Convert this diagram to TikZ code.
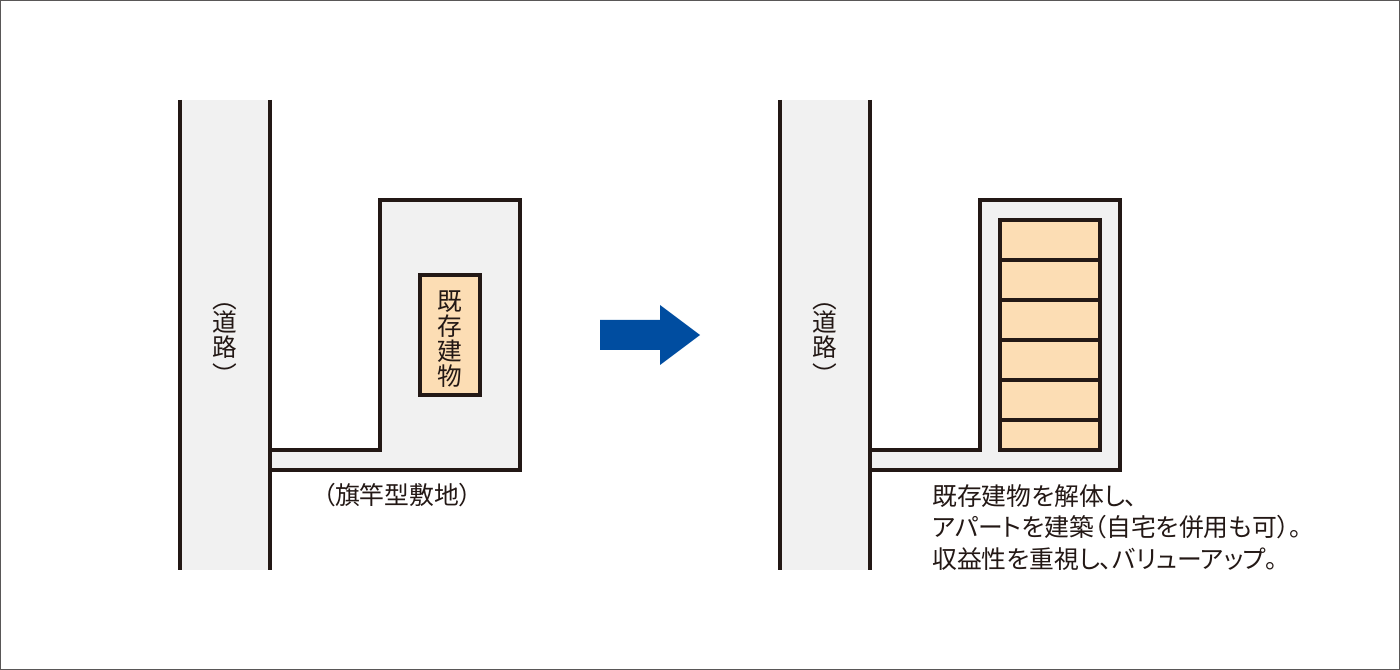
\documentclass[tikz,border=0pt]{standalone}
\usepackage{fontspec}
\usepackage{graphicx}
\setmainfont{Noto Sans CJK JP}
\newfontfamily\tightjp[RawFeature=+palt]{Noto Sans CJK JP}
\usetikzlibrary{positioning}
\definecolor{lineblack}{RGB}{35,24,21}
\definecolor{sitegray}{RGB}{241,241,241}
\definecolor{buildorange}{RGB}{252,221,180}
\definecolor{arrowblue}{RGB}{0,77,160}
\definecolor{framegray}{RGB}{89,87,87}
\newcommand{\tatepar}[1]{\rotatebox[origin=c]{-90}{#1}}
\tikzset{
    wall/.style={
        line width=3.6pt,
        lineblack,
        line join=miter
    },
    floorline/.style={
        line width=2.3pt,
        lineblack
    },
    jplabel/.style={
        text=lineblack,
        font=\tightjp\fontsize{18.6}{23.8}\selectfont,
        inner sep=0pt
    },
    tatelabel/.style={
        jplabel,
        align=center,
        font=\fontsize{18.5}{18.75}\selectfont
    }
}
\begin{document}
\begin{tikzpicture}[x=0.75pt,y=-0.75pt]
    \useasboundingbox (0,0) rectangle (1400,670);
    \draw[framegray,line width=0.75pt] (0.5,0.5) rectangle (1399.5,669.5);

    % road and flag-shaped lot, left and right
    \foreach \dx in {0,600} {
        \fill[sitegray] (180+\dx,100) rectangle (270+\dx,570);
        \fill[sitegray] (270+\dx,450) -- (380+\dx,450) -- (380+\dx,200)
            -- (520+\dx,200) -- (520+\dx,470) -- (270+\dx,470) -- cycle;
        \draw[wall] (270+\dx,450) -- (380+\dx,450) -- (380+\dx,200)
            -- (520+\dx,200) -- (520+\dx,470) -- (270+\dx,470);
        \draw[wall] (180+\dx,100) -- (180+\dx,570);
        \draw[wall] (270+\dx,100) -- (270+\dx,570);
    }

    % existing building
    \draw[wall,fill=buildorange] (420,275) rectangle (480,395);

    % new apartment
    \draw[wall,fill=buildorange] (1000,220) rectangle (1100,450);
    \foreach \y in {260,300,340,380,420} {
        \draw[floorline] (1000,\y) -- (1100,\y);
    }

    % blue arrow
    \fill[arrowblue] (600,320) -- (660,320) -- (660,305) -- (700,335)
        -- (660,365) -- (660,350) -- (600,350) -- cycle;

    % labels
    \node[tatelabel] (road1) at (225,337) {\tatepar{（}\\[-1pt]道\\路\\[2pt]\tatepar{）}};
    \node[tatelabel] (road2) at (825,337) {\tatepar{（}\\[-1pt]道\\路\\[2pt]\tatepar{）}};
    \node[tatelabel] (house) at (450,339) {既\\存\\建\\物};
    \node[jplabel] (lot) at (397,495) {（旗竿型敷地）};
    \node[jplabel,anchor=north west,align=left] (plan) at (932,484) {既存建物を解体し、\\アパートを建築（自宅を併用も可）。\\収益性を重視し、バリューアップ。};
\end{tikzpicture}
\end{document}
